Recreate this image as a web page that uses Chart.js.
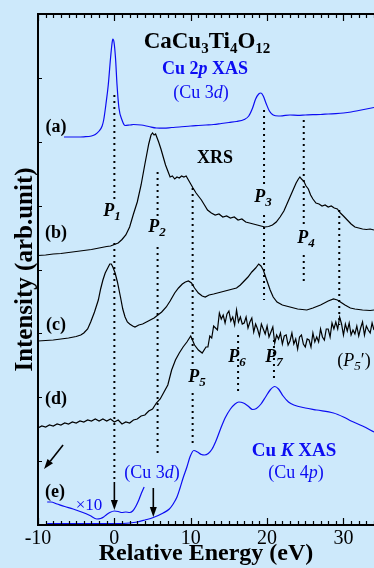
<!DOCTYPE html>
<html>
<head>
<meta charset="utf-8">
<script src="https://cdn.jsdelivr.net/npm/chart.js@4/dist/chart.umd.min.js"></script>
<style>
  html, body { margin: 0; padding: 0; background: #cde9fb; }
  canvas { display: block; }
</style>
</head>
<body>
<canvas id="spectra" width="374" height="568"></canvas>
<script>
const xTickValues = [-10, 0, 10, 20, 30];

// (a) Cu 2p XAS
const energyA = [-6.6,-5,-4,-3,-2.5,-2,-1.6,-1.4,-1.1,-0.8,-0.5,-0.3,-0.2,-0.05,0.15,0.35,0.6,1.0,1.4,2.0,2.5,3.5,4.5,5.5,6.5,7.5,8.5,10,11,12,13,14,15,16,17,17.6,18.1,18.5,18.9,19.2,19.5,19.9,20.3,20.8,21.5,22,23,24,25,26,27,28,29,30,31,32,33,34];
const intensityA = [388,388,388.2,389,390.5,394,399,405,421,440,467,482,486,483,467,440,417,405,399.5,400,400.5,400,398.5,397,396.8,397.5,398,399,399.5,400,400.5,401.5,402.5,403.5,405.5,409,417,426,431,432,429,421,414,410,409,409.2,410,409.7,410,410.3,410.5,411,411.4,412,413,414.5,416,417.5];

// (b) XRS
const energyB = [-10,-9,-8,-7,-6,-5,-4,-3,-2,-1,-0.5,0,0.5,1,1.5,2,2.5,3,3.5,4,4.5,4.8,5.0,5.2,5.4,5.6,5.8,6.1,6.4,6.7,7,7.3,7.6,7.9,8.2,8.5,8.8,9.1,9.4,9.7,10,10.3,10.7,11.1,11.4,11.8,12.2,12.7,13.2,13.7,14.2,14.7,15.2,15.7,16.2,16.7,17.2,17.7,18.2,18.7,19.2,19.7,20.2,20.7,21.2,21.7,22.2,22.6,23,23.4,23.8,24.1,24.3,24.5,24.8,25.1,25.4,25.7,26,26.4,26.8,27.2,27.6,28,28.4,28.8,29.2,29.6,30,30.5,31,31.5,32,32.5,33,33.5,34];
const intensityB = [269.5,270,271,271.5,272.5,273.5,274.5,275.5,277,278.5,279,280.5,282,285.5,290,298,311,323,340,361,381,390,392,390,391,387,383,376,368,360,354,348,349,346,348,347,349,348,349,345,341,337,332,328,325,320,315,312,310,311,308,309,307,308,305,306,303,302,301,300,299,298,298.5,300,303,308,314,321,328,335,342,346,348,346,344,339,336,330,326,322,321,319,320,318,319,317,316,312,309,305,301,298,297,296,295.5,296,295];

// (c)
const energyC = [-10,-9,-8,-7,-6,-5,-4.4,-4,-3.5,-3.1,-2.6,-2.1,-1.8,-1.5,-1.2,-0.8,-0.6,-0.4,-0.2,0.1,0.4,0.8,1.1,1.4,1.7,2.0,2.4,2.7,3.2,3.7,4.2,4.7,5.2,5.7,6.2,6.8,7.3,7.9,8.4,8.9,9.3,9.7,10.1,10.5,11,11.5,11.9,12.4,13,13.5,14,14.5,15,15.5,16,16.5,17,17.5,18,18.5,18.9,19.2,19.5,19.9,20.4,20.8,21.3,22,23,24,25.2,26,27,28,28.7,29.2,29.6,30.2,30.9,31.5,32.5,33.5,34];
const intensityC = [184,184.5,185,186,187,188.5,190,192,196,203,213,225,236,245,252,258,261,261,258,252,243,228,216,208,203,201,199,198,200,201,203,205,207,210,213,218,224,232,237,241,243,244,242,237,232,229,228,230,231,232,233,234,235,236,237,240,244,248,253,257,261,259,255,246,235,228,223,220,218,216,215,217,220,224,226,225,223,220,217,216,215,214.5,215];

// (d)
const energyD = [-10,-9.5,-9,-8.5,-8,-7.5,-7,-6.5,-6,-5.5,-5,-4.5,-4,-3.5,-3,-2.5,-2,-1.5,-1,-0.5,0,0.5,1,1.5,2,2.5,3,3.5,4,4.5,5,5.5,6,6.5,7,7.5,8,8.5,9,9.5,10,10.5,11,11.5,
  12,12.25,12.5,12.75,13,13.25,13.5,13.75,14,14.25,14.5,14.75,15,15.25,15.5,15.75,16,16.25,16.5,16.75,17,17.25,17.5,17.75,18,18.25,18.5,18.75,19,19.25,19.5,19.75,20,20.25,20.5,20.75,21,21.25,21.5,21.75,22,22.25,22.5,22.75,23,23.25,23.5,23.75,24,24.25,24.5,24.75,25,25.25,25.5,25.75,26,26.25,26.5,26.75,27,27.25,27.5,27.75,28,28.25,28.5,28.75,29,29.25,29.5,29.75,30,30.25,30.5,30.75,31,31.25,31.5,31.75,32,32.25,32.5,32.75,33,33.25,33.5,33.75,34];
const intensityD = [97,99,98,100,99,101,100,102,101,103,102,104,103,105,104,106,104,106,104,106,103,105,101,103,102,105,106,109,110,114,116,122,126,133,140,155,165,172,178,183,189,180,175,172,
  178,178,189,187,199,197,195,212,206,210,202,211,214,204,208,200,215,203,208,201,202,208,197,203,207,193,201,196,189,201,196,191,199,188,193,198,182,190,186,192,181,189,190,180,184,192,181,186,176,188,190,181,178,186,185,178,192,183,188,183,196,188,185,196,196,188,202,196,203,196,208,201,190,201,194,202,190,195,191,199,189,197,203,190,199,195,192,202,195];

// (e) Cu K XAS and its x10 pre-edge
const energyE = [-8.8,-6,-3,0,2,3,4,5.1,6.4,7.2,7.7,8.2,8.6,9.0,9.5,9.9,10.4,10.9,11.4,11.8,12.3,12.8,13.3,13.9,14.5,15.2,15.8,16.3,16.9,17.5,18.1,18.6,19.2,19.8,20.4,21,21.5,22.1,22.8,23.5,25,26.5,28.7,30,31,32.5,34];
const intensityE = [1.5,1.5,1.5,1.5,2,3,5,7.5,12,16,21,28,37,47,58,68,74.5,73,70.5,70,71.5,76,84,96,107,116,121,123,122,119,115.5,116.5,121,128,135,138.5,136,129,123,120,117,115,112,108,104,99,93];
const energyE10 = [-8.8,-8.3,-7.5,-6.5,-5.4,-4.3,-3.2,-2.3,-1.8,-1.4,-1,-0.6,0,0.5,1,1.5,2,2.4,2.8,3.2,3.5,3.9];
const intensityE10 = [23,23,21,18.5,16,13,9.5,6,6.5,8,10.5,12.5,14,13.5,12.5,13,12.5,14,18.5,25,31,38];

// peak markers: energy and the intensity spans of each dotted drop line
const markerEnergy = [0, 5.66, 10.25, 19.6, 24.8, 29.45, 16.2, 20.9];
const markerSpans = [
  [[430, 325], [282, 45]],
  [[353, 307], [278, 68]],
  [[337, 160], [132, 80]],
  [[415, 337], [310, 225]],
  [[405, 297], [270, 242]],
  [[315, 200]],
  [[190, 132]],
  [[185, 147]]
];

const SERIF = "'Liberation Serif', 'Times New Roman', serif";
const BLUE = '#0c0cf2';
const INK = '#000';

const pts = (xs, ys) => xs.map((x, i) => ({ x: x, y: ys[i] }));

const curves = [
  { data: pts(energyA, intensityA), borderColor: BLUE, cubicInterpolationMode: 'monotone' },
  { data: pts(energyB, intensityB), borderColor: INK },
  { data: pts(energyC, intensityC), borderColor: INK },
  { data: pts(energyD, intensityD), borderColor: INK },
  { data: pts(energyE, intensityE), borderColor: BLUE, cubicInterpolationMode: 'monotone' },
  { data: pts(energyE10, intensityE10), borderColor: BLUE, cubicInterpolationMode: 'monotone' }
].map(d => Object.assign({ borderWidth: 1.2, pointRadius: 0, fill: false }, d));

const dropLines = [];
markerEnergy.forEach((e, i) => {
  markerSpans[i].forEach(span => {
    dropLines.push({
      data: [{ x: e, y: span[0] }, { x: e, y: span[1] }],
      borderColor: INK, borderWidth: 2, borderDash: [2, 4], pointRadius: 0
    });
  });
});

// text drawn as runs so sub/superscripts and italics can be mixed
function drawRuns(ctx, runs, cx, y, color) {
  let w = 0;
  runs.forEach(r => { ctx.font = r[1]; w += ctx.measureText(r[0]).width; });
  let x = cx - w / 2;
  ctx.fillStyle = color;
  ctx.textAlign = 'left';
  ctx.textBaseline = 'alphabetic';
  runs.forEach(r => {
    ctx.font = r[1];
    ctx.fillText(r[0], x, y + (r[2] || 0));
    x += ctx.measureText(r[0]).width;
  });
}

const B = s => 'bold ' + s + 'px ' + SERIF;
const BI = s => 'italic bold ' + s + 'px ' + SERIF;
const N = s => s + 'px ' + SERIF;
const I = s => 'italic ' + s + 'px ' + SERIF;
const peak = n => [['P', BI(18)], [n, BI(13), 4]];

const labels = [
  [[['CaCu', B(23)], ['3', B(15), 5], ['Ti', B(23)], ['4', B(15), 5], ['O', B(23)], ['12', B(15), 5]], 207, 48, INK],
  [[['Cu 2', B(18)], ['p', BI(18)], [' XAS', B(18)]], 205, 74, BLUE],
  [[['(Cu 3', N(18)], ['d', I(18)], [')', N(18)]], 201, 98, BLUE],
  [[['(a)', B(18)]], 56, 132, INK],
  [[['XRS', B(18)]], 215, 163, INK],
  [peak('1'), 112, 216, INK],
  [[['(b)', B(18)]], 56, 238, INK],
  [peak('2'), 157, 232, INK],
  [peak('3'), 263, 202, INK],
  [peak('4'), 306, 243, INK],
  [[['(c)', B(18)]], 56, 330, INK],
  [peak('5'), 197, 382, INK],
  [peak('6'), 237, 362, INK],
  [peak('7'), 274, 362, INK],
  [[['(', N(18)], ['P', I(18)], ['5', I(13), 4], ['\u2032)', N(18)]], 354, 366, INK],
  [[['(d)', B(18)]], 56, 404, INK],
  [[['Cu ', B(19)], ['K', BI(19)], [' XAS', B(19)]], 294, 456, BLUE],
  [[['(Cu 4', N(18)], ['p', I(18)], [')', N(18)]], 296, 478, BLUE],
  [[['(Cu 3', N(18)], ['d', I(18)], [')', N(18)]], 152, 478, BLUE],
  [[['(e)', B(18)]], 55, 497, INK],
  [[['\u00d710', N(17)]], 89, 510, BLUE]
];

// arrows in data coordinates: [E from, I from, E to, I to]
const arrows = [[0, 43, 0, 15], [5.1, 37, 5.1, 8], [-6.72, 80, -9.21, 56]];

const framePlugin = {
  id: 'frame',
  beforeDraw(chart) {
    const c = chart.ctx;
    c.save();
    c.fillStyle = '#cde9fb';
    c.fillRect(0, 0, chart.width, chart.height);
    c.restore();
  },
  afterDraw(chart) {
    const c = chart.ctx;
    const a = chart.chartArea;
    const xs = chart.scales.x, ys = chart.scales.y;
    c.save();
    c.strokeStyle = INK;
    c.lineWidth = 2;
    c.beginPath();
    c.moveTo(a.right + 2, a.top);
    c.lineTo(a.left, a.top);
    c.lineTo(a.left, a.bottom);
    c.lineTo(a.right + 2, a.bottom);
    c.stroke();

    c.lineWidth = 1.2;
    c.beginPath();
    for (let e = -10; e <= 34; e++) {
      const px = Math.round(xs.getPixelForValue(e)) + 0.5;
      const len = e % 10 === 0 ? 7 : 4;
      c.moveTo(px, a.bottom); c.lineTo(px, a.bottom - len);
      c.moveTo(px, a.top); c.lineTo(px, a.top + len);
    }
    for (let k = 1; k < 8; k++) {
      const py = Math.round(ys.getPixelForValue(k * 511 / 8)) + 0.5;
      c.moveTo(a.left, py); c.lineTo(a.left + 4, py);
    }
    c.stroke();

    // arrows
    c.fillStyle = INK;
    c.lineWidth = 1.6;
    arrows.forEach(ar => {
      const x1 = xs.getPixelForValue(ar[0]), y1 = ys.getPixelForValue(ar[1]);
      const x2 = xs.getPixelForValue(ar[2]), y2 = ys.getPixelForValue(ar[3]);
      const ang = Math.atan2(y2 - y1, x2 - x1);
      const hl = 10, hw = 3.5;
      const bx = x2 - hl * Math.cos(ang), by = y2 - hl * Math.sin(ang);
      c.beginPath();
      c.moveTo(x1, y1); c.lineTo(bx, by);
      c.stroke();
      c.beginPath();
      c.moveTo(x2, y2);
      c.lineTo(bx + hw * Math.sin(ang), by - hw * Math.cos(ang));
      c.lineTo(bx - hw * Math.sin(ang), by + hw * Math.cos(ang));
      c.closePath();
      c.fill();
    });

    labels.forEach(l => drawRuns(c, l[0], l[1], l[2], l[3]));
    c.restore();
  }
};

new Chart(document.getElementById('spectra'), {
  type: 'line',
  data: { datasets: dropLines.concat(curves) },
  options: {
    responsive: false,
    animation: false,
    devicePixelRatio: 1,
    layout: { padding: { top: 14, right: 0, left: 0, bottom: 0 } },
    plugins: { legend: { display: false }, tooltip: { enabled: false } },
    scales: {
      x: {
        type: 'linear', min: -10, max: 34,
        afterBuildTicks: s => { s.ticks = xTickValues.map(v => ({ value: v })); },
        afterFit: s => { s.height = 43; s.paddingRight = 0; s.paddingLeft = 0; },
        grid: { display: false, drawTicks: false },
        border: { display: false },
        ticks: { autoSkip: false, maxRotation: 0, padding: 2, color: INK, font: { family: SERIF, size: 20 } },
        title: { display: true, text: 'Relative Energy (eV)', color: INK, padding: { top: 0, bottom: 0 }, font: { family: SERIF, size: 24, weight: 'bold' } }
      },
      y: {
        type: 'linear', min: 0, max: 511,
        afterFit: s => { s.width = 38; },
        grid: { display: false, drawTicks: false },
        border: { display: false },
        ticks: { display: false },
        title: { display: true, text: 'Intensity (arb.unit)', color: INK, padding: { top: 11, bottom: 0 }, font: { family: SERIF, size: 25, weight: 'bold' } }
      }
    }
  },
  plugins: [framePlugin]
});
</script>
</body>
</html>
